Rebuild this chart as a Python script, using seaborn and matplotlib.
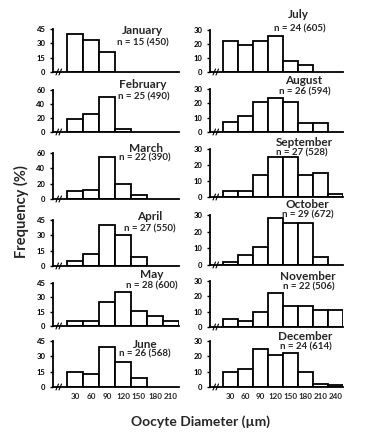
import matplotlib
matplotlib.use("Agg")
import matplotlib.pyplot as plt
import seaborn as sns
import pandas as pd

# ---------------- data ----------------
bins_left = ["30", "60", "90", "120", "150", "180", "210"]
bins_right = ["30", "60", "90", "120", "150", "180", "210", "240"]

january = [40, 34, 21]
february = [19, 25, 50, 4]
march = [10, 12, 55, 20, 5]
april = [5, 12, 40, 30, 9]
may = [5, 5, 25, 36, 16, 10, 5]
june = [15, 13, 39, 24, 9]
july = [22, 19, 22, 26, 8, 5]
august = [7, 11, 21, 24, 21, 6, 6]
september = [4, 4, 13.5, 25, 25, 13.5, 15, 2]
october = [2, 6, 11, 28, 25, 25, 5]
november = [5, 4, 10, 22, 14, 14, 11, 11]
december = [10, 12, 25, 21, 22, 10, 2, 1]

month_names = ["January", "February", "March", "April", "May", "June",
               "July", "August", "September", "October", "November", "December"]
sample_n = [15, 25, 22, 27, 28, 26, 24, 26, 27, 29, 22, 24]
oocyte_n = [450, 490, 390, 550, 600, 568, 605, 594, 528, 672, 506, 614]
y_max = [45, 60, 60, 45, 45, 45, 30, 30, 30, 30, 30, 30]

values = [january, february, march, april, may, june,
          july, august, september, october, november, december]

# ---------------- layout (pixels) ----------------
W, H = 383, 446
sns.set_style("white")
plt.rcParams["font.family"] = ["Lato", "DejaVu Sans"]
plt.rcParams["font.weight"] = "bold"

fig = plt.figure(figsize=(W / 100, H / 100), dpi=100)

# (top_px, baseline_px) per panel
left_rows = [(29, 72), (90, 132), (153, 199), (220, 266), (283, 326), (341, 387)]
right_rows = [(30, 72), (89, 132), (149, 197), (215, 265), (281, 327), (341, 387)]
# month title centre (x, y) and n-line centre (x, y) in px
title_pos = [(142, 31, 143, 43), (143, 85, 144, 97), (146, 149, 145, 158),
             (150, 217, 150, 229), (152, 275, 152, 286), (145, 344, 145, 354),
             (298, 15, 300, 29), (304, 81, 305, 92), (304, 142, 302, 153),
             (307, 205, 308, 215), (308, 277, 309, 287), (305, 337, 306, 347)]

for i in range(12):
    if i < 6:
        x0, x1 = 53, 179
        top, base = left_rows[i]
        cats = bins_left
        lead = 14 / 16
    else:
        x0, x1 = 210, 343
        top, base = right_rows[i - 6]
        cats = bins_right
        lead = 13 / 15
    ax = fig.add_axes([x0 / W, 1 - base / H, (x1 - x0) / W, (base - top) / H])
    vals = values[i]
    df = pd.DataFrame({"bin": cats[:len(vals)], "freq": vals})
    sns.barplot(data=df, x="bin", y="freq", order=cats, color="white",
                saturation=1, edgecolor="black", linewidth=1.3, width=1.0, ax=ax)
    ax.set_xlim(-0.5 - lead, len(cats) - 0.5)
    ax.set_ylim(0, y_max[i])
    ax.set_yticks([0, y_max[i] / 3, 2 * y_max[i] / 3, y_max[i]])
    ax.set_yticklabels([str(int(v)) for v in ax.get_yticks()], fontsize=5.5,
                       fontweight="bold")
    ax.set_xlabel("")
    ax.set_ylabel("")
    for s in ["top", "right"]:
        ax.spines[s].set_visible(False)
    for s in ["left", "bottom"]:
        ax.spines[s].set_linewidth(1.3)
        ax.spines[s].set_color("black")
    ax.tick_params(axis="y", length=2.5, width=1, pad=3, colors="black", left=True)
    ax.tick_params(axis="x", length=0, pad=4)
    if i in (5, 11):
        ax.set_xticklabels(cats, fontsize=5.8, fontweight="bold")
    else:
        ax.set_xticklabels([])
    # axis break marks
    wpx = x1 - x0
    hpx = base - top
    for off in (3, 6):
        ax.plot([(off) / wpx, (off + 2.5) / wpx], [-3 / hpx, 3 / hpx],
                transform=ax.transAxes, color="black", lw=0.8, clip_on=False)
    tx, ty, nx, ny = title_pos[i]
    fig.text(tx / W, 1 - ty / H, month_names[i], ha="center", va="center",
             fontsize=8.5, fontweight="bold")
    fig.text(nx / W, 1 - ny / H, f"n = {sample_n[i]} ({oocyte_n[i]})",
             ha="center", va="center", fontsize=7, fontweight="bold")

fig.text(21 / W, 1 - 212 / H, "Frequency (%)", rotation=90, ha="center",
         va="center", fontsize=10.5, fontweight="bold")
fig.text(200 / W, 1 - 422 / H, "Oocyte Diameter (µm)", ha="center",
         va="center", fontsize=10, fontweight="bold")

fig.savefig("out.png", dpi=100)
